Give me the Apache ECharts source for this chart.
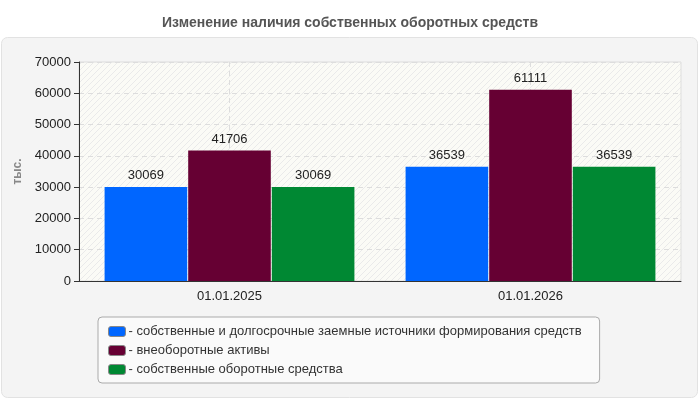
<!DOCTYPE html>
<html><head><meta charset="utf-8">
<script src="https://cdn.jsdelivr.net/npm/echarts@6/dist/echarts.min.js"></script>
<style>html,body{margin:0;padding:0;background:#fff}#c{width:700px;height:400px}</style>
</head><body><div id="c"></div>
<script>
const categories = ['01.01.2025', '01.01.2026'];
const seriesNames = [
  'собственные и долгосрочные заемные источники формирования средств',
  'внеоборотные активы',
  'собственные оборотные средства'
];
const ownLongTerm = [30069, 36539];
const nonCurrent = [41706, 61111];
const ownCurrent = [30069, 36539];
const yTicks = [0, 10000, 20000, 30000, 40000, 50000, 60000, 70000];
const colors = ['#0066ff', '#660033', '#008833'];

const pc = document.createElement('canvas');
pc.width = 6; pc.height = 6;
const g = pc.getContext('2d');
g.fillStyle = '#fbfbf6'; g.fillRect(0, 0, 6, 6);
g.strokeStyle = '#eaeaea'; g.lineWidth = 1;
g.beginPath(); g.moveTo(0, 6); g.lineTo(6, 0); g.moveTo(-3, 3); g.lineTo(3, -3); g.moveTo(3, 9); g.lineTo(9, 3); g.stroke();

const font = 'Liberation Sans, Arial, sans-serif';
const chart = echarts.init(document.getElementById('c'));
const mk = (name, data, i) => ({
  name, type: 'bar', data,
  barGap: '1.2%', barCategoryGap: '17%',
  itemStyle: { color: colors[i] },
  label: { show: true, position: 'top', color: '#222', fontSize: 13, fontFamily: font, distance: 5 },
  emphasis: { disabled: true }
});
chart.setOption({
  animation: false,
  textStyle: { fontFamily: font },
  title: {
    text: 'Изменение наличия собственных оборотных средств',
    left: 'center', top: 11,
    textStyle: { fontSize: 14, fontWeight: 'bold', color: '#555', fontFamily: font }
  },
  graphic: [{
    type: 'rect', z: -10, silent: true,
    shape: { x: 1.5, y: 37.5, width: 696, height: 360, r: 6 },
    style: { fill: '#f4f4f4', stroke: '#e2e2e2', lineWidth: 1 }
  }],
  grid: {
    left: 79, right: 19, top: 62, bottom: 119,
    show: true, backgroundColor: { image: pc, repeat: 'repeat' },
    borderColor: '#dddddd', borderWidth: 1
  },
  legend: {
    orient: 'vertical', left: 98, top: 317,
    data: seriesNames,
    formatter: n => '- ' + n,
    itemWidth: 17, itemHeight: 10, itemGap: 6,
    padding: [8, 18, 7, 10],
    backgroundColor: '#fafafa', borderColor: '#aaaaaa', borderWidth: 1, borderRadius: 4,
    textStyle: { fontSize: 13, color: '#333', fontFamily: font, padding: [0, 0, 0, -2] },
    itemStyle: { borderColor: '#888', borderWidth: 1 },
    selectedMode: false
  },
  xAxis: {
    type: 'category', data: categories,
    axisLine: { lineStyle: { color: '#333' } },
    axisTick: { alignWithLabel: true, length: 5, lineStyle: { color: '#333' } },
    axisLabel: { color: '#222', fontSize: 13, margin: 9, fontFamily: font },
    splitLine: { show: true, alignWithLabel: true, lineStyle: { color: '#dddddd', type: [5, 4] } }
  },
  yAxis: {
    type: 'value', min: 0, max: 70000, interval: 10000,
    name: 'тыс.', nameLocation: 'middle', nameGap: 52, nameRotate: 90,
    nameTextStyle: { color: '#888', fontWeight: 'bold', fontSize: 12, fontFamily: font },
    axisLine: { show: true, lineStyle: { color: '#333' } },
    axisTick: { show: true, length: 5, lineStyle: { color: '#333' } },
    axisLabel: { color: '#222', fontSize: 13, margin: 8, fontFamily: font,
      formatter: v => yTicks.includes(v) ? String(v) : '' },
    splitLine: { lineStyle: { color: '#dddddd', type: [5, 4] } }
  },
  series: [mk(seriesNames[0], ownLongTerm, 0), mk(seriesNames[1], nonCurrent, 1), mk(seriesNames[2], ownCurrent, 2)]
});
</script></body></html>
